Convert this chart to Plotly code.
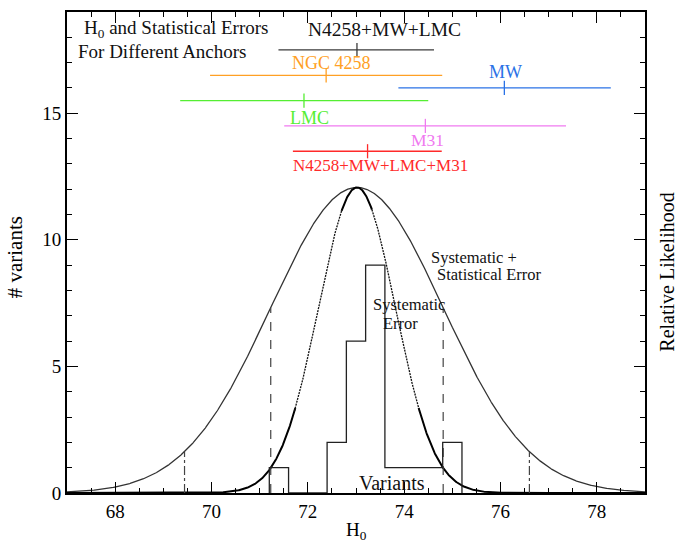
import numpy as np
import plotly.graph_objects as go

# ---------------- data ----------------
# histogram of analysis variants
bin_edges = [71.2, 71.6, 72.0, 72.4, 72.8, 73.2, 73.6, 74.0, 74.4, 74.8, 75.2]
variant_counts = [1, 0, 0, 2, 6, 9, 1, 1, 1, 2]

# likelihood curves (relative likelihood, scaled to the histogram axis)
h0_center = 73.02
peak_height = 12.07
sigma_total = 1.79   # systematic + statistical
sigma_sys = 0.80     # systematic only

# H0 and statistical errors for the different anchors
anchor_names = ["N4258+MW+LMC", "NGC 4258", "MW", "LMC", "M31", "N4258+MW+LMC+M31"]
anchor_h0 = [73.02, 72.38, 76.08, 71.92, 74.44, 73.24]
anchor_lo = [71.39, 69.97, 73.88, 69.35, 71.51, 71.69]
anchor_hi = [74.62, 74.79, 78.29, 74.50, 77.36, 74.78]

x_tick_vals = [68, 70, 72, 74, 76, 78]
y_tick_vals = [0, 5, 10, 15]

# ---------------- style / layout ----------------
FONT = "Liberation Serif"
anchor_rows = [17.5, 16.5, 16.0, 15.5, 14.5, 13.5]
anchor_colors = ["#3a3a3a", "#FFA024", "#2a72e6", "#55ee33", "#f07af0", "#ff2a2a"]
label_pos = [(73.60, 18.3), (72.50, 17.0), (76.11, 16.62), (72.03, 14.81), (74.49, 13.95), (73.51, 12.93)]
label_size = [19.5, 18, 18, 18, 17.5, 17]
label_colors = ["#111111", "#FFA024", "#2a72e6", "#55ee33", "#f07af0", "#ff2a2a"]

fig = go.Figure()

# Gaussian curves
xg = np.linspace(67, 79, 1201)
def gauss(x, s):
    return peak_height * np.exp(-0.5 * ((np.asarray(x) - h0_center) / s) ** 2)

fig.add_trace(go.Scatter(x=xg, y=gauss(xg, sigma_total), mode="lines",
                         line=dict(color="#333333", width=1.3), hoverinfo="skip"))

ys = gauss(xg, sigma_sys)
d = np.abs(xg - h0_center)
solid_mask = (d <= 0.32) | (d >= 1.28)
dot_mask = (d >= 0.30) & (d <= 1.30)
fig.add_trace(go.Scatter(x=xg, y=np.where(solid_mask, ys, np.nan), mode="lines",
                         line=dict(color="black", width=2), connectgaps=False, hoverinfo="skip"))
fig.add_trace(go.Scatter(x=xg, y=np.where(dot_mask, ys, np.nan), mode="lines",
                         line=dict(color="#111111", width=1.3, dash="2px,1px"), connectgaps=False,
                         hoverinfo="skip"))

# 1-sigma (dashed) and 2-sigma (dash-dot) markers of the total error
for k, dash in [(1, "dash"), (2, "dashdot")]:
    for sgn in (-1, 1):
        xv = h0_center + sgn * k * sigma_total
        fig.add_trace(go.Scatter(x=[xv, xv], y=[0, float(gauss(xv, sigma_total))], mode="lines",
                                 line=dict(color="#444444", width=1.2, dash=dash), hoverinfo="skip"))

# histogram (step outline)
hx = [bin_edges[0]] + list(bin_edges)
hy = [0] + list(variant_counts) + [0]
fig.add_trace(go.Scatter(x=hx, y=hy, mode="lines", line=dict(color="#222222", width=1.3, shape="hv"),
                         hoverinfo="skip"))

# anchor error bars
for name, c, lo, hi, row, col in zip(anchor_names, anchor_h0, anchor_lo, anchor_hi, anchor_rows, anchor_colors):
    fig.add_trace(go.Scatter(x=[lo, hi], y=[row, row], mode="lines", line=dict(color=col, width=1.3),
                             hoverinfo="skip"))
    fig.add_trace(go.Scatter(x=[c, c], y=[row - 0.28, row + 0.28], mode="lines", line=dict(color=col, width=1.3),
                             hoverinfo="skip"))

ann = []
for name, (lx, ly), sz, col in zip(anchor_names, label_pos, label_size, label_colors):
    ann.append(dict(x=lx, y=ly, xref="x", yref="y", text=name, showarrow=False,
                    font=dict(family=FONT, size=sz, color=col), xanchor="center", yanchor="middle"))

def txt(x, y, t, size, xanchor="left"):
    ann.append(dict(x=x, y=y, xref="x", yref="y", text=t, showarrow=False,
                    font=dict(family=FONT, size=size, color="#111111"), xanchor=xanchor, yanchor="middle"))

txt(67.31, 18.32, "H<sub>0</sub> and Statistical Errors", 19)
txt(67.19, 17.45, "For Different Anchors", 19)
txt(74.52, 9.32, "Systematic +", 16.5)
txt(74.64, 8.62, "Statistical Error", 16.5)
txt(73.31, 7.45, "Systematic", 16.5)
txt(73.51, 6.68, "Error", 16.5)
txt(73.02, 0.38, "Variants", 20)

# axis titles
ann.append(dict(x=0.5, y=-0.078, xref="paper", yref="paper", text="H<sub>0</sub>", showarrow=False,
                font=dict(family=FONT, size=19, color="black"), xanchor="center", yanchor="middle"))
ann.append(dict(x=-0.09, y=0.49, xref="paper", yref="paper", text="# variants", showarrow=False,
                textangle=-90, font=dict(family=FONT, size=21, color="black"), xanchor="center", yanchor="middle"))
ann.append(dict(x=1.038, y=0.46, xref="paper", yref="paper", text="Relative Likelihood", showarrow=False,
                textangle=-90, font=dict(family=FONT, size=20, color="black"), xanchor="center", yanchor="middle"))

axis_common = dict(showline=True, linecolor="black", linewidth=1.8, mirror="ticks", ticks="inside",
                   tickcolor="black", tickwidth=1.3, ticklen=11, showgrid=False, zeroline=False,
                   tickfont=dict(family=FONT, size=19, color="black"))

fig.update_layout(
    width=681, height=545,
    margin=dict(l=67, r=36, t=10, b=52),
    paper_bgcolor="white", plot_bgcolor="white",
    showlegend=False,
    annotations=ann,
    xaxis=dict(range=[67, 79], tickvals=x_tick_vals, ticktext=[str(v) for v in x_tick_vals],
               minor=dict(dtick=0.5, tick0=67, ticks="inside", ticklen=5, tickcolor="black", tickwidth=1.2),
               **axis_common),
    yaxis=dict(range=[0, 19], tickvals=y_tick_vals, ticktext=[str(v) for v in y_tick_vals],
               minor=dict(dtick=1, tick0=0, ticks="inside", ticklen=5, tickcolor="black", tickwidth=1.2),
               **axis_common),
)

fig.write_html("out.html")
